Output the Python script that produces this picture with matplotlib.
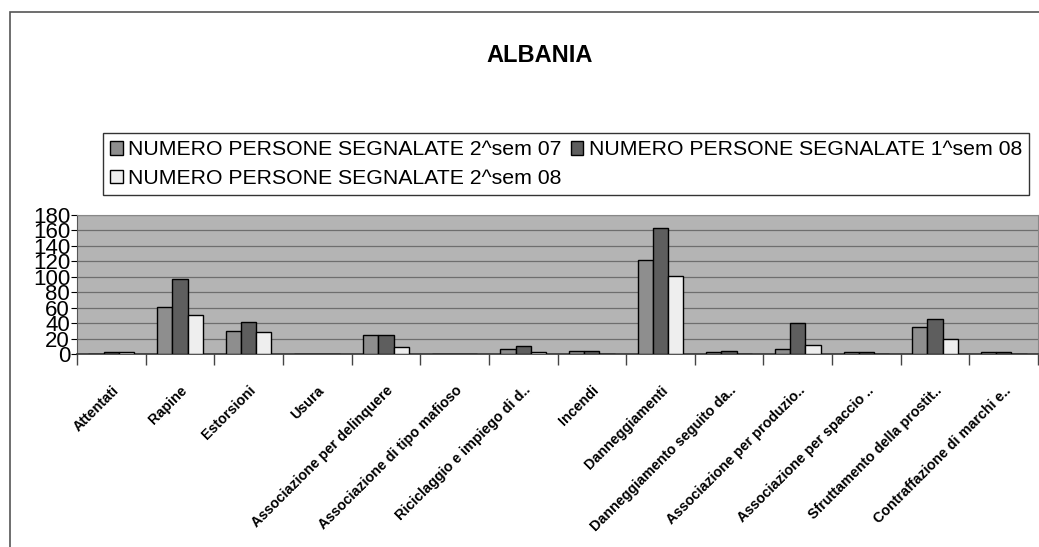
import numpy as np
import matplotlib
matplotlib.use('Agg')
import matplotlib.pyplot as plt
from matplotlib.patches import Rectangle, Patch

# Categorie e valori
categorie = [
    "Attentati", "Rapine", "Estorsioni", "Usura",
    "Associazione per delinquere", "Associazione di tipo mafioso",
    "Riciclaggio e impiego di d..", "Incendi", "Danneggiamenti",
    "Danneggiamento seguito da..", "Associazione per produzio..",
    "Associazione per spaccio ..", "Sfruttamento della prostit..",
    "Contraffazione di marchi e..",
]
sem2_07 = [0, 61, 30, 0, 25, 0, 6, 4, 122, 2, 6, 2, 35, 2]
sem1_08 = [2, 97, 42, 0, 25, 0, 11, 4, 163, 4, 40, 2, 45, 2]
sem2_08 = [2, 51, 28, 0, 9, 0, 2, 0, 101, 0, 12, 0, 19, 0]
serie = [
    "NUMERO PERSONE SEGNALATE 2^sem 07",
    "NUMERO PERSONE SEGNALATE 1^sem 08",
    "NUMERO PERSONE SEGNALATE 2^sem 08",
]
colori = ['#8e8e8e', '#5e5e5e', '#eeeeee']
y_ticks = list(range(0, 181, 20))


def main():
    plt.rcParams['font.family'] = ['Liberation Sans', 'DejaVu Sans']
    fig = plt.figure(figsize=(10.39, 5.47), dpi=100)
    fig.patch.set_facecolor('white')

    # cornice esterna del grafico
    fig.add_artist(Rectangle((10 / 1039, -0.01), 1.0, 1 - 12 / 547 + 0.01,
                             transform=fig.transFigure, fill=False,
                             edgecolor='#555555', linewidth=1.2))

    ax = fig.add_axes([77 / 1039, 1 - 354 / 547, 1 - 78 / 1039, (354 - 215) / 547])
    ax.set_facecolor('#b4b4b4')

    x = np.arange(len(categorie))
    w = 0.222
    for i, (vals, col) in enumerate(zip([sem2_07, sem1_08, sem2_08], colori)):
        ax.bar(x + (i - 1) * w, vals, w, color=col, edgecolor='black',
               linewidth=1.0, zorder=3)

    ax.set_xlim(-0.5, len(categorie) - 0.5)
    ax.set_ylim(0, 180)
    ax.set_yticks(y_ticks)
    ax.set_yticklabels([str(v) for v in y_ticks], fontsize=16)
    ax.yaxis.grid(True, color='#6e6e6e', linewidth=0.9, zorder=1)
    ax.tick_params(axis='y', length=4, pad=1)

    ax.set_xticks(x)
    ax.set_xticklabels(categorie, rotation=45, ha='right', rotation_mode='anchor',
                       fontsize=10.3, fontweight='bold')
    ax.tick_params(axis='x', which='major', length=0, pad=21)
    ax.set_xticks(np.arange(-0.5, len(categorie), 1), minor=True)
    ax.tick_params(axis='x', which='minor', length=8, width=1, color='#444444')

    for s in ['top', 'right']:
        ax.spines[s].set_color('#888888')
    ax.spines['left'].set_color('#555555')
    ax.spines['bottom'].set_color('#333333')
    ax.spines['bottom'].set_linewidth(1.2)

    fig.text(540 / 1039, 1 - 56 / 547, "ALBANIA", ha='center', va='center',
             fontsize=17, fontweight='bold')

    handles = [Patch(facecolor=c, edgecolor='black', linewidth=1.0) for c in colori]
    order = [0, 2, 1]
    leg = fig.legend([handles[i] for i in order], [serie[i] for i in order],
                     loc='upper left', bbox_to_anchor=(103 / 1039, 1 - 133 / 547),
                     ncol=2, fontsize=15.3, frameon=True, fancybox=False,
                     edgecolor='black', handlelength=0.6, handleheight=0.6,
                     handletextpad=0.25, columnspacing=0.4, borderpad=0.35,
                     labelspacing=0.45, borderaxespad=0)
    leg.get_frame().set_linewidth(1.0)

    fig.savefig('out.png', dpi=100)


if __name__ == '__main__':
    main()
